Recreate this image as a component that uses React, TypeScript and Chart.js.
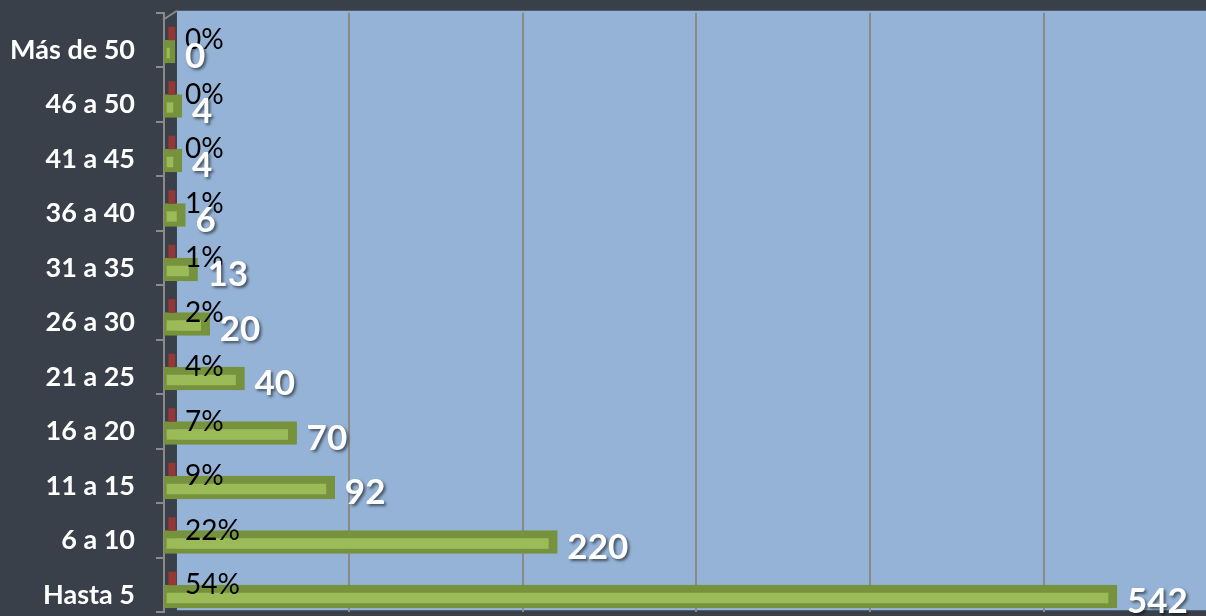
import React, { useEffect, useRef } from "react";
import { Chart, registerables } from "chart.js";

Chart.register(...registerables);

const categories = [
  "Más de 50",
  "46 a 50",
  "41 a 45",
  "36 a 40",
  "31 a 35",
  "26 a 30",
  "21 a 25",
  "16 a 20",
  "11 a 15",
  "6 a 10",
  "Hasta 5",
];
const counts = [0, 4, 4, 6, 13, 20, 40, 70, 92, 220, 542];
const percents = [0, 0, 0, 1, 1, 2, 4, 7, 9, 22, 54];
const gridValues = [100, 200, 300, 400, 500];

const BG = "#3a4049";
const WALL = "#95b3d7";
const GREEN_LIGHT = "#9bbb59";
const GREEN_DARK = "#76923c";
const RED = "#953735";
const GRID = "#8a8a8a";

const backgroundPlugin = {
  id: "bgWall",
  beforeDraw(chart: any) {
    const { ctx, width, height, chartArea, scales } = chart;
    const x = scales.x;
    ctx.save();
    ctx.fillStyle = BG;
    ctx.fillRect(0, 0, width, height);
    const wallLeft = x.getPixelForValue(0) + 2;
    const wallTop = chartArea.top - 2;
    const wallBottom = chartArea.bottom - 2;
    ctx.fillStyle = WALL;
    ctx.fillRect(wallLeft, wallTop, width - wallLeft, wallBottom - wallTop);
    ctx.strokeStyle = GRID;
    ctx.lineWidth = 2;
    ctx.beginPath();
    ctx.moveTo(chartArea.left - 1, wallTop + 9);
    ctx.lineTo(wallLeft, wallTop);
    ctx.stroke();
    ctx.restore();
  },
};

const labelPlugin = {
  id: "valueLabels",
  afterDatasetsDraw(chart: any) {
    const { ctx, scales } = chart;
    const meta = chart.getDatasetMeta(1);
    const zeroX = scales.x.getPixelForValue(0);
    ctx.save();
    meta.data.forEach((bar: any, i: number) => {
      const props = bar.getProps(["x", "y", "height"], true);
      const top = props.y - props.height / 2;
      ctx.shadowColor = "transparent";
      ctx.fillStyle = "#000000";
      ctx.font = "28px Lato";
      ctx.textAlign = "left";
      ctx.textBaseline = "alphabetic";
      ctx.fillText(percents[i] + "%", zeroX + 10, top + 9);
      ctx.shadowColor = "rgba(0,0,0,0.55)";
      ctx.shadowOffsetX = 2;
      ctx.shadowOffsetY = 2;
      ctx.shadowBlur = 3;
      ctx.fillStyle = "#ffffff";
      ctx.font = "bold 35px Lato";
      ctx.fillText(String(counts[i]), Math.max(props.x, zeroX) + 10, props.y + 16.5);
      ctx.shadowColor = "transparent";
      ctx.shadowOffsetX = 0;
      ctx.shadowOffsetY = 0;
      ctx.shadowBlur = 0;
    });
    ctx.restore();
  },
};

export default function App() {
  const canvasRef = useRef<HTMLCanvasElement | null>(null);

  useEffect(() => {
    if (!canvasRef.current) return;
    const chart = new Chart(canvasRef.current, {
      type: "bar",
      data: {
        labels: categories,
        datasets: [
          {
            label: "Porcentaje",
            data: percents.map((p) => p / 100),
            backgroundColor: RED,
            borderWidth: 0,
            barThickness: 13,
            base: -3.6,
          } as any,
          {
            label: "Cantidad",
            data: counts,
            backgroundColor: GREEN_LIGHT,
            borderColor: GREEN_DARK,
            borderWidth: { top: 8, bottom: 5, left: 3, right: 9 },
            borderSkipped: false,
            barThickness: 23,
            base: -6.3,
          } as any,
        ],
      },
      options: {
        indexAxis: "y",
        responsive: false,
        maintainAspectRatio: false,
        animation: false,
        devicePixelRatio: 1,
        layout: { padding: { top: 12.75, bottom: 3.75, left: 0, right: 0 } },
        plugins: {
          legend: { display: false },
          title: { display: false },
          tooltip: { enabled: false },
        },
        scales: {
          x: {
            type: "linear",
            min: -6.3,
            max: 593.2,
            afterBuildTicks: (scale: any) => {
              scale.ticks = gridValues.map((v) => ({ value: v }));
            },
            ticks: { display: false },
            grid: { color: GRID, lineWidth: 2, drawTicks: false },
            border: { display: false },
          },
          y: {
            type: "category",
            afterFit: (scale: any) => {
              scale.width = 164;
              scale.paddingTop = 0;
              scale.paddingBottom = 0;
            },
            ticks: {
              color: "#ffffff",
              font: { family: "Lato", size: 27, weight: "bold" },
              padding: 21,
              labelOffset: 10,
              autoSkip: false,
            },
            grid: {
              drawOnChartArea: false,
              color: GRID,
              lineWidth: 2,
              tickLength: 8,
            },
            border: { display: true, color: GRID, width: 2 },
          },
        },
      } as any,
      plugins: [backgroundPlugin, labelPlugin],
    });
    return () => chart.destroy();
  }, []);

  return (
    <div style={{ position: "absolute", left: 0, top: 0, width: 1206, height: 616, background: BG }}>
      <canvas ref={canvasRef} width={1206} height={616} style={{ display: "block" }} />
    </div>
  );
}
